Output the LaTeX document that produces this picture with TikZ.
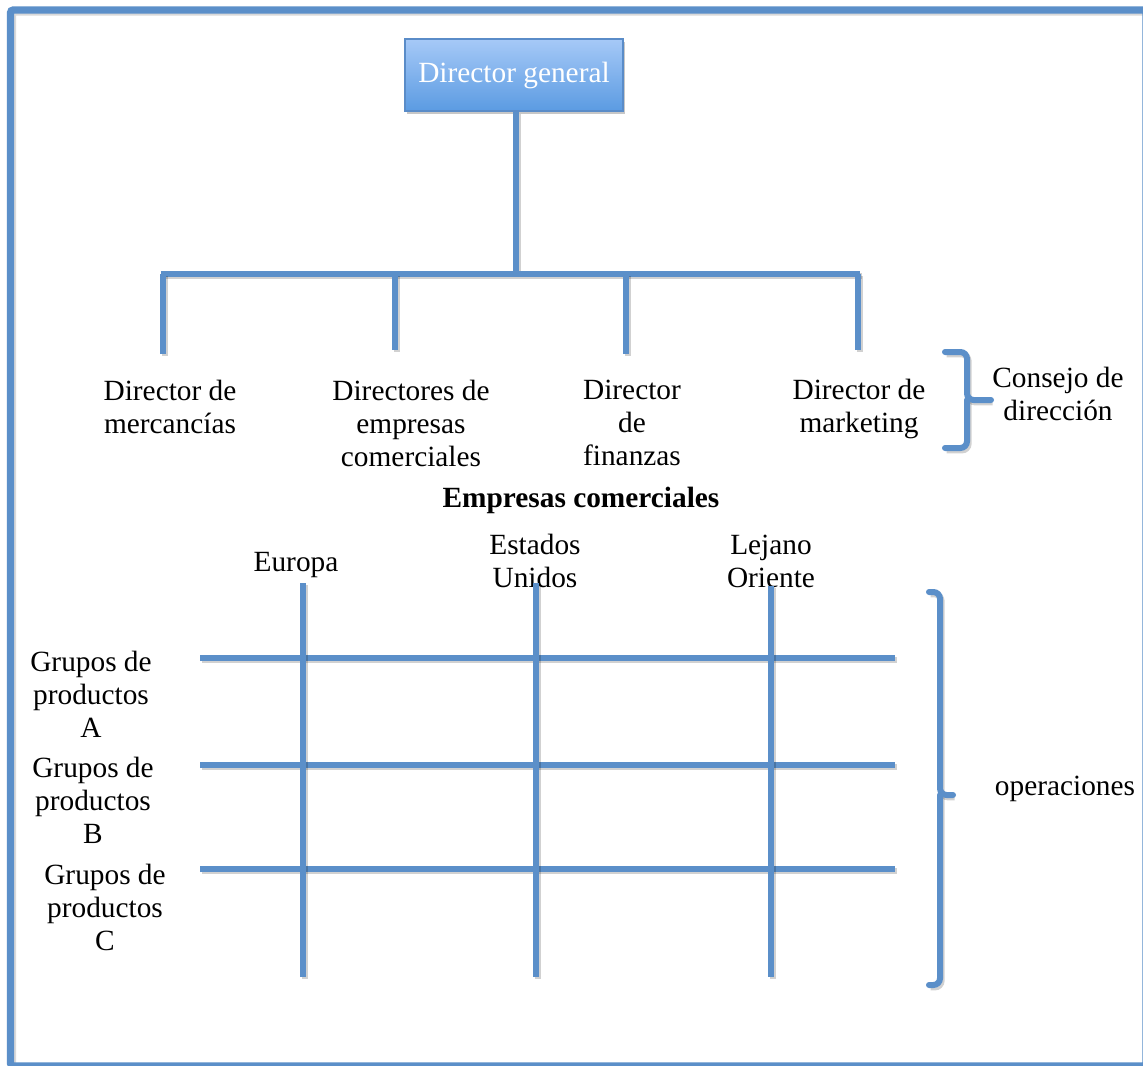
\documentclass[tikz,border=0pt]{standalone}
\usepackage{fontspec}
\setmainfont{Liberation Serif}
\begin{document}
\definecolor{lineblue}{HTML}{5B8FC9}
\definecolor{boxtop}{HTML}{A6C9F7}
\definecolor{boxbot}{HTML}{5B9BE2}
\definecolor{boxedge}{HTML}{5A8CC8}
\begin{tikzpicture}[x=0.75pt,y=-0.75pt,
  conn/.style={draw=lineblue, line width=4.5pt,
    preaction={draw=black, opacity=0.18, line width=4.5pt,
      transform canvas={shift={(1.2pt,-1.8pt)}}}},
  frame/.style={draw=lineblue, line width=5.4pt, rounded corners=2pt,
    preaction={draw=black, opacity=0.15, line width=5.4pt,
      transform canvas={shift={(1.5pt,-1.5pt)}}}},
  lbl/.style={align=center, inner sep=0pt,
    font=\fontsize{22pt}{24.75pt}\selectfont},
  rootbox/.style={draw=boxedge, line width=0.8pt,
    top color=boxtop, bottom color=boxbot, text=white,
    minimum width=163.5pt, minimum height=54pt, inner sep=0pt,
    font=\fontsize{22pt}{24.75pt}\selectfont,
    preaction={fill=black, opacity=0.22,
      transform canvas={shift={(1.5pt,-2.2pt)}}}}]
\useasboundingbox (0,0) rectangle (1143,1065);
\clip (0,0) rectangle (1143,1065);
\fill[white] (0,0) rectangle (1143,1065);

% outer frame
\draw[frame] (10.5,10) rectangle (1146,1066);

% head of the organisation
\node[rootbox] (dg) at (514,75) {Director general};

% bus of the management board
\coordinate (bus) at (516,274);
\coordinate (bL) at (160.8,274);
\coordinate (bR) at (860.2,274);
\coordinate (t1) at (163,274);  \coordinate (e1) at (163,354);
\coordinate (t2) at (395,274);  \coordinate (e2) at (395,350);
\coordinate (t3) at (626,274);  \coordinate (e3) at (626,354);
\coordinate (t4) at (858,274);  \coordinate (e4) at (858,350);
\draw[conn] (dg.south -| bus) -- (bus);
\draw[conn] (bL) -- (bR);
\draw[conn] (t1) -- (e1);
\draw[conn] (t2) -- (e2);
\draw[conn] (t3) -- (e3);
\draw[conn] (t4) -- (e4);

% board members
\node[lbl] (m1) at (170,407) {Director de\\mercancías};
\node[lbl] (m2) at (411,423) {Directores de\\empresas\\comerciales};
\node[lbl] (m3) at (632,423) {Director\\de\\finanzas};
\node[lbl] (m4) at (859,409) {Director de\\marketing};

% brace for the board
\coordinate (c1) at (945,352);
\coordinate (c2) at (945,448);
\coordinate (ctip) at (991,400);
\draw[conn, line cap=round, rounded corners=5pt]
  (c1) -- (967,352) -- (967,400) -- (ctip);
\draw[conn, line cap=round, rounded corners=5pt]
  (c2) -- (967,448) -- (967,400);
\node[lbl] (cd) at (1058,394) {Consejo de\\dirección};

% section title
\node[lbl, font=\fontsize{22pt}{24.75pt}\selectfont\bfseries] (ec) at (581,500) {Empresas comerciales};

% regions
\node[lbl] (r1) at (296,565) {Europa};
\node[lbl] (r2) at (535,561) {Estados\\Unidos};
\node[lbl] (r3) at (771,561) {Lejano\\Oriente};

% matrix grid
\coordinate (v1t) at (303,583); \coordinate (v1b) at (303,977);
\coordinate (v2t) at (536,583); \coordinate (v2b) at (536,977);
\coordinate (v3t) at (771,586); \coordinate (v3b) at (771,977);
\coordinate (h1l) at (200,658); \coordinate (h1r) at (895,658);
\coordinate (h2l) at (200,765); \coordinate (h2r) at (895,765);
\coordinate (h3l) at (200,869); \coordinate (h3r) at (895,869);
\draw[conn] (h1l) -- (h1r);
\draw[conn] (h2l) -- (h2r);
\draw[conn] (h3l) -- (h3r);
\draw[conn] (v1t) -- (v1b);
\draw[conn] (v2t) -- (v2b);
\draw[conn] (v3t) -- (v3b);

% product groups
\node[lbl] (g1) at (91,694) {Grupos de\\productos\\A};
\node[lbl] (g2) at (93,800) {Grupos de\\productos\\B};
\node[lbl] (g3) at (105,907) {Grupos de\\productos\\C};

% brace for operations
\coordinate (o1) at (929,592);
\coordinate (o2) at (929,985);
\coordinate (otip) at (953,795);
\draw[conn, line cap=round, rounded corners=5pt]
  (o1) -- (940,592) -- (940,795) -- (otip);
\draw[conn, line cap=round, rounded corners=5pt]
  (o2) -- (940,985) -- (940,795);
\node[lbl] (op) at (1065,789) {operaciones};
\end{tikzpicture}
\end{document}
